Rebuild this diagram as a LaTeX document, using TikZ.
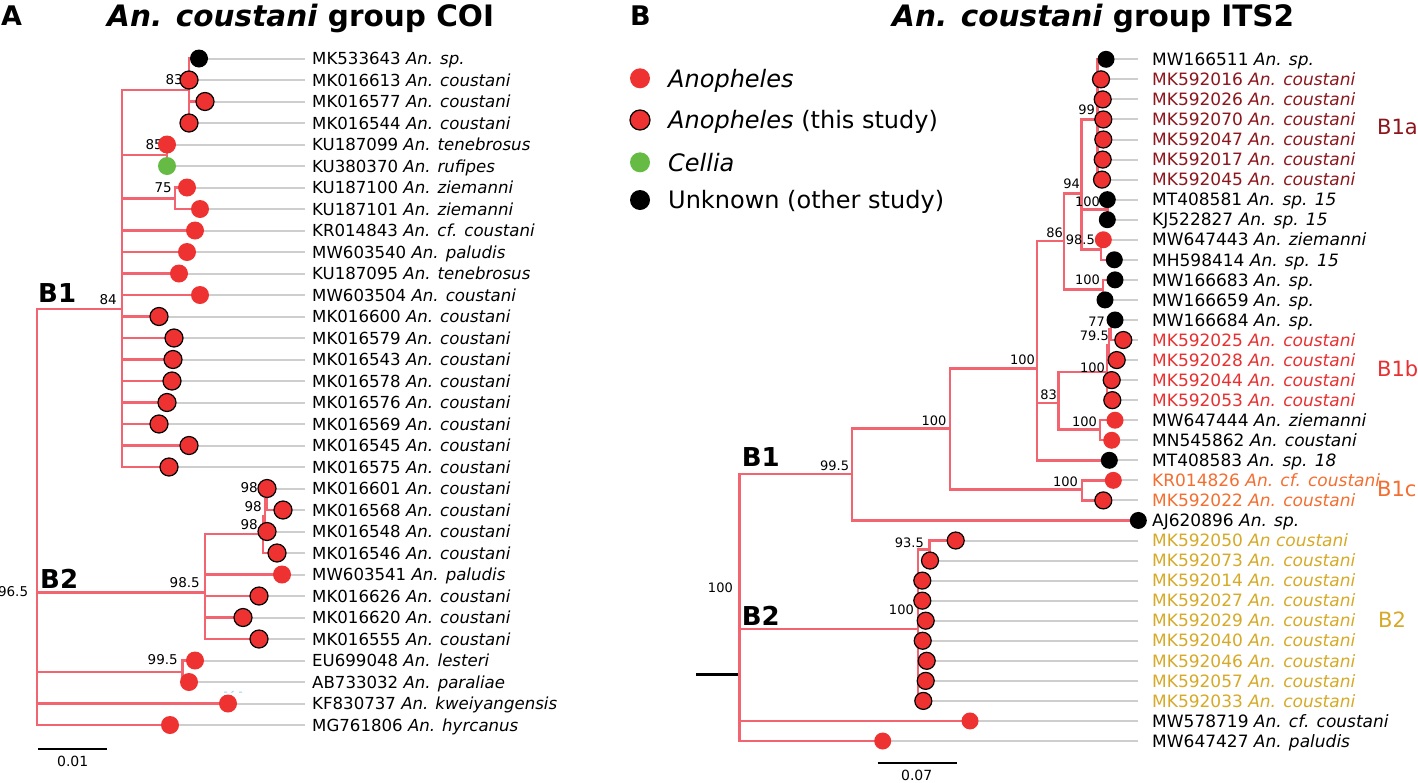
\documentclass[tikz,border=0pt]{standalone}
\usepackage{fontspec}
\setmainfont{DejaVu Sans}
\definecolor{branchpink}{RGB}{242,100,112}
\definecolor{leafgray}{RGB}{206,206,206}
\definecolor{anored}{RGB}{238,50,50}
\definecolor{celliagreen}{RGB}{102,187,68}
\definecolor{cladedark}{RGB}{140,22,28}
\definecolor{cladered}{RGB}{232,48,48}
\definecolor{cladeorange}{RGB}{244,110,48}
\definecolor{cladegold}{RGB}{214,170,40}
\definecolor{speck}{RGB}{150,215,232}
\pgfdeclarelayer{front}
\pgfsetlayers{main,front}
\tikzset{
  branch/.style={draw=branchpink, line width=2.4pt},
  leafline/.style={draw=leafgray, line width=2pt},
  tip/.style={circle, inner sep=0pt, minimum size=18pt},
  anoph/.style={tip, fill=anored},
  study/.style={tip, fill=anored, draw=black, line width=1.2pt},
  cellia/.style={tip, fill=celliagreen},
  unk/.style={tip, fill=black},
  seqA/.style={anchor=base west, inner sep=0pt, yshift=-6pt, font=\fontsize{16.6}{18}\selectfont},
  seqB/.style={anchor=base west, inner sep=0pt, yshift=-6.2pt, font=\fontsize{17}{18}\selectfont},
  boot/.style={anchor=east, inner sep=0pt, font=\fontsize{13.5}{14}\selectfont},
  bootB/.style={boot, font=\fontsize{13}{14}\selectfont},
  clade/.style={anchor=base west, inner sep=0pt, font=\bfseries\fontsize{26}{28}\selectfont},
  subclade/.style={anchor=west, inner sep=0pt, font=\fontsize{21}{22}\selectfont},
  paneltag/.style={anchor=base west, inner sep=0pt, font=\bfseries\fontsize{27}{30}\selectfont},
  title/.style={anchor=base west, inner sep=0pt, font=\bfseries\fontsize{29.5}{32}\selectfont},
  legendtext/.style={anchor=base west, inner sep=0pt, font=\fontsize{24}{26}\selectfont},
  scalebar/.style={draw=black, line width=2pt},
  scalelabel/.style={inner sep=0pt, font=\fontsize{14}{15}\selectfont},
}
\begin{document}
\begin{tikzpicture}[x=1pt,y=-1pt]
  \useasboundingbox (0,0) rectangle (1418,782);
  \fill[white] (0,0) rectangle (1418,782);

  % panel A: COI
  \node[paneltag] (tagA) at (1,25) {A};
  \node[title] (titleA) at (107,26) {\textit{An. coustani} group COI};
  \foreach \r/\x/\sty/\id/\spc in {
      1/199/unk/MK533643/An. sp.,
      2/189/study/MK016613/An. coustani,
      3/205/study/MK016577/An. coustani,
      4/189/study/MK016544/An. coustani,
      5/167/anoph/KU187099/An. tenebrosus,
      6/167/cellia/KU380370/An. rufipes,
      7/187/anoph/KU187100/An. ziemanni,
      8/200/anoph/KU187101/An. ziemanni,
      9/195/anoph/KR014843/An. cf. coustani,
      10/187/anoph/MW603540/An. paludis,
      11/179/anoph/KU187095/An. tenebrosus,
      12/200/anoph/MW603504/An. coustani,
      13/159/study/MK016600/An. coustani,
      14/174/study/MK016579/An. coustani,
      15/173/study/MK016543/An. coustani,
      16/172/study/MK016578/An. coustani,
      17/167/study/MK016576/An. coustani,
      18/159/study/MK016569/An. coustani,
      19/189/study/MK016545/An. coustani,
      20/169/study/MK016575/An. coustani,
      21/267/study/MK016601/An. coustani,
      22/283/study/MK016568/An. coustani,
      23/267/study/MK016548/An. coustani,
      24/277/study/MK016546/An. coustani,
      25/282/anoph/MW603541/An. paludis,
      26/259/study/MK016626/An. coustani,
      27/243/study/MK016620/An. coustani,
      28/259/study/MK016555/An. coustani,
      29/195/anoph/EU699048/An. lesteri,
      30/189/anoph/AB733032/An. paraliae,
      31/228/anoph/KF830737/An. kweiyangensis,
      32/170/anoph/MG761806/An. hyrcanus}{
    \coordinate (a\r) at (\x,{58.5+(\r-1)*21.5});
    \coordinate (ea\r) at (305,{58.5+(\r-1)*21.5});
    \draw[leafline] (a\r) -- (ea\r);
    \node[seqA] (la\r) at (312,{58.5+(\r-1)*21.5}) {\id\ \textit{\spc}};
    \begin{pgfonlayer}{front}
      \node[\sty] (ta\r) at (a\r) {};
    \end{pgfonlayer}
  }
  \coordinate (aR) at (36.7,517);
  \coordinate (aB1) at (122,309);
  \coordinate (aC1) at (189,90);
  \coordinate (aC2) at (167,155);
  \coordinate (aC3) at (175,198.3);
  \coordinate (aB2) at (205,592.3);
  \coordinate (aN1) at (263,534);
  \coordinate (aN2) at (265,516);
  \coordinate (aN3) at (267,499);
  \coordinate (aC4) at (182.3,671.7);
  \foreach \p/\kids in {aR/{aB1,aB2,aC4,a31,a32},
                        aB1/{aC1,aC2,aC3,a9,a10,a11,a12,a13,a14,a15,a16,a17,a18,a19,a20},
                        aC1/{a1,a2,a3,a4}, aC2/{a5,a6}, aC3/{a7,a8},
                        aB2/{aN1,a25,a26,a27,a28}, aN1/{aN2,a24}, aN2/{aN3,a23}, aN3/{a21,a22},
                        aC4/{a29,a30}}{
    \foreach \k in \kids
      \draw[branch] (\p) |- (\k);
  }
  \foreach \v/\px/\py [count=\n] in {83/183/80, 85/163/145, 75/172/188, 84/117/300,
      98/258/488, 98/262/506.7, 98/258/525, 98.5/200/583, 99.5/178/660, 96.5/28.3/591.7}
    \node[boot] (sa\n) at (\px,\py) {\v};
  \node[clade] (cladeA1) at (38,302) {B1};
  \node[clade] (cladeA2) at (40,588) {B2};
  \draw[speck, line width=1pt] (224,692) -- (227,692) (231.5,692.5) -- (233.5,691) (239,692) -- (242,692);
  \coordinate (sbA1) at (38.3,749.3);
  \coordinate (sbA2) at (107.3,749.3);
  \draw[scalebar] (sbA1) -- (sbA2);
  \node[scalelabel] (slA) at (72.7,761) {0.01};

  % panel B: ITS2
  \node[paneltag] (tagB) at (630,25) {B};
  \node[title] (titleB) at (892,26) {\textit{An. coustani} group ITS2};
  \foreach \sty/\ly/\txt [count=\n] in {anoph/78.3/\textit{Anopheles},
      study/120/\textit{Anopheles} (this study),
      cellia/162.3/\textit{Cellia},
      unk/200/Unknown (other study)}{
    \node[\sty, minimum size=20pt] (key\n) at (640,\ly) {};
    \node[legendtext] (keytext\n) at (668,\ly+8.8) {\txt};
  }
  \foreach \r/\x/\sty/\id/\spc/\col in {
      1/1106/unk/MW166511/An. sp./black,
      2/1101/study/MK592016/An. coustani/cladedark,
      3/1102.7/study/MK592026/An. coustani/cladedark,
      4/1103.3/study/MK592070/An. coustani/cladedark,
      5/1103.3/study/MK592047/An. coustani/cladedark,
      6/1102.7/study/MK592017/An. coustani/cladedark,
      7/1102/study/MK592045/An. coustani/cladedark,
      8/1107.3/unk/MT408581/An. sp. 15/black,
      9/1107.3/unk/KJ522827/An. sp. 15/black,
      10/1103.3/anoph/MW647443/An. ziemanni/black,
      11/1114.3/unk/MH598414/An. sp. 15/black,
      12/1115/unk/MW166683/An. sp./black,
      13/1105/unk/MW166659/An. sp./black,
      14/1115/unk/MW166684/An. sp./black,
      15/1123.3/study/MK592025/An. coustani/cladered,
      16/1116.7/study/MK592028/An. coustani/cladered,
      17/1111.7/study/MK592044/An. coustani/cladered,
      18/1112.3/study/MK592053/An. coustani/cladered,
      19/1115/anoph/MW647444/An. ziemanni/black,
      20/1111.7/anoph/MN545862/An. coustani/black,
      21/1109.3/unk/MT408583/An. sp. 18/black,
      22/1113.3/anoph/KR014826/An. cf. coustani/cladeorange,
      23/1103.3/study/MK592022/An. coustani/cladeorange,
      24/1138.3/unk/AJ620896/An. sp./black,
      25/955.7/study/MK592050/An coustani/cladegold,
      26/930/study/MK592073/An. coustani/cladegold,
      27/922.3/study/MK592014/An. coustani/cladegold,
      28/922.3/study/MK592027/An. coustani/cladegold,
      29/925.7/study/MK592029/An. coustani/cladegold,
      30/922.7/study/MK592040/An. coustani/cladegold,
      31/926.7/study/MK592046/An. coustani/cladegold,
      32/925.7/study/MK592057/An. coustani/cladegold,
      33/923.3/study/MK592033/An. coustani/cladegold,
      34/970/anoph/MW578719/An. cf. coustani/black,
      35/882.7/anoph/MW647427/An. paludis/black}{
    \coordinate (b\r) at (\x,{59.3+(\r-1)*20.05});
    \coordinate (eb\r) at (1138.3,{59.3+(\r-1)*20.05});
    \draw[leafline] (b\r) -- (eb\r);
    \node[seqB, text=\col] (lb\r) at (1152,{59.3+(\r-1)*20.05}) {\id\ \textit{\spc}};
    \begin{pgfonlayer}{front}
      \node[\sty, minimum size=17pt] (tb\r) at (b\r) {};
    \end{pgfonlayer}
  }
  \coordinate (bS) at (696,674.3);
  \coordinate (bR) at (739.3,674.3);
  \coordinate (bB1) at (851.7,474);
  \coordinate (bC1) at (950,428.3);
  \coordinate (bC2) at (1036.7,368.3);
  \coordinate (bC3) at (1081.7,489.3);
  \coordinate (bN86) at (1064,241);
  \coordinate (bN94) at (1081.5,193.3);
  \coordinate (bN99) at (1097.3,119.3);
  \coordinate (bN100a) at (1107.3,209.3);
  \coordinate (bN98) at (1101,249.3);
  \coordinate (bN100d) at (1103,289.3);
  \coordinate (bN83) at (1058.3,402.7);
  \coordinate (bN100b) at (1107,372);
  \coordinate (bN795) at (1109,344.7);
  \coordinate (bN77) at (1111,329.3);
  \coordinate (bN100c) at (1100,429.3);
  \coordinate (bB2) at (917.7,629);
  \coordinate (bN935) at (929.3,549.3);
  \draw[line width=2.4pt] (bS) -- (bR);
  \foreach \p/\kids in {bR/{bB1,bB2,b34,b35}, bB1/{bC1,b24}, bC1/{bC2,bC3}, bC3/{b22,b23},
                        bC2/{bN86,bN83,b21}, bN86/{bN94,bN100d}, bN94/{bN99,bN100a,bN98},
                        bN99/{b1,b2,b3,b4,b5,b6,b7}, bN100a/{b8,b9}, bN98/{b10,b11},
                        bN100d/{b12,b13}, bN83/{bN100b,bN100c}, bN100b/{bN795,b17,b18},
                        bN795/{bN77,b16}, bN77/{b14,b15}, bN100c/{b19,b20},
                        bB2/{bN935,b27,b28,b29,b30,b31,b32,b33}, bN935/{b25,b26}}{
    \foreach \k in \kids
      \draw[branch] (\p) |- (\k);
  }
  \foreach \v/\px/\py [count=\n] in {99/1095/110, 94/1080/184, 100/1100/202, 98.5/1095/240,
      86/1063/232.7, 100/1100/280, 77/1105/321.7, 79.5/1109/336, 100/1105/367.7,
      83/1057/395, 100/1097/421.7, 100/1035/360, 100/1078/481.7, 100/946.7/420.7,
      99.5/849.3/465.7, 100/733/587.7, 93.5/924/542.7, 100/914/610}
    \node[bootB] (sb\n) at (\px,\py) {\v};
  \node[clade] (cladeB1) at (741.7,466.7) {B1};
  \node[clade] (cladeB2) at (741.7,625) {B2};
  \node[subclade, text=cladedark] (subB1a) at (1377,127) {B1a};
  \node[subclade, text=cladered] (subB1b) at (1377,369) {B1b};
  \node[subclade, text=cladeorange] (subB1c) at (1377,489) {B1c};
  \node[subclade, text=cladegold] (subB2) at (1378,620) {B2};
  \coordinate (sbB1) at (877.7,762.7);
  \coordinate (sbB2) at (956.7,762.7);
  \draw[scalebar] (sbB1) -- (sbB2);
  \node[scalelabel] (slB) at (916.7,775) {0.07};
\end{tikzpicture}
\end{document}
